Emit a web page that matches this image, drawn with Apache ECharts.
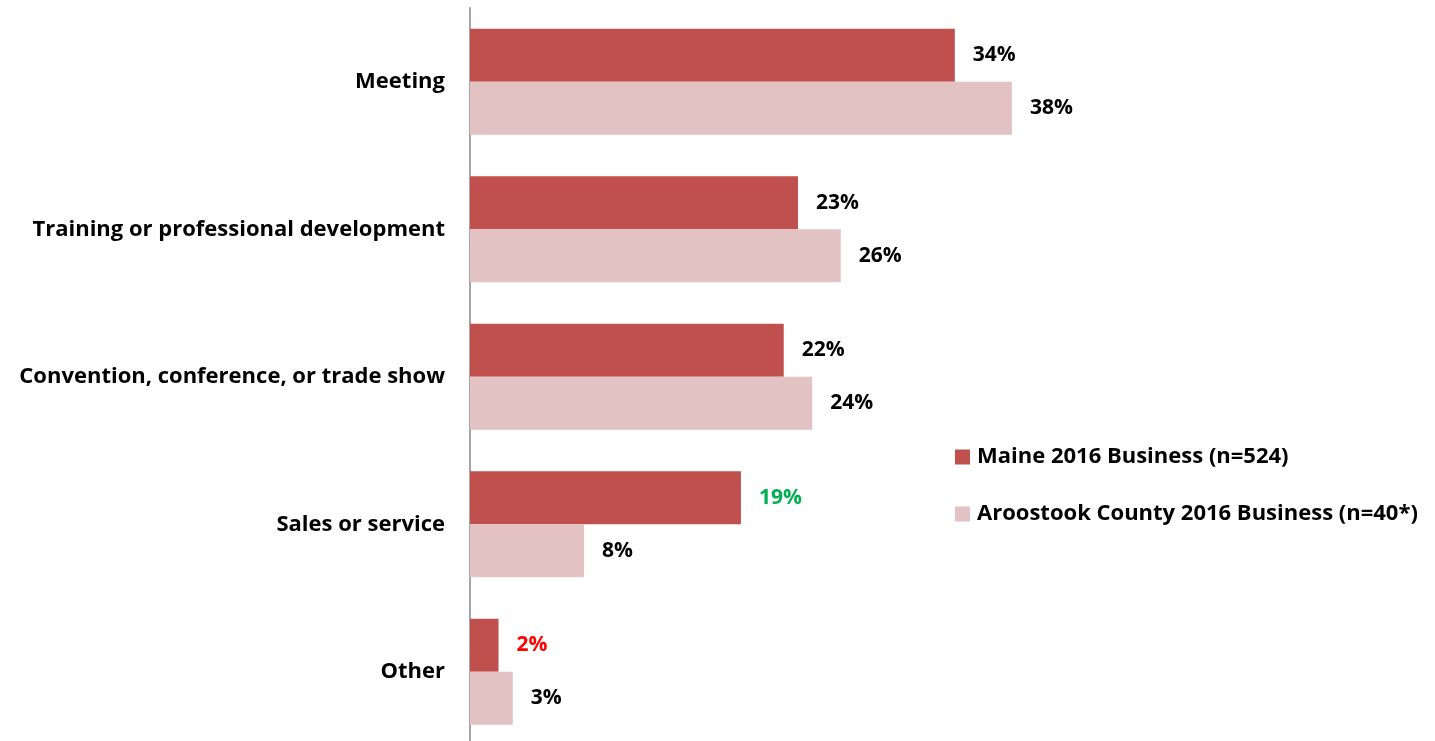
<!DOCTYPE html>
<html>
<head>
<meta charset="utf-8">
<script src="https://cdn.jsdelivr.net/npm/echarts@6/dist/echarts.min.js"></script>
<style>
  html, body { margin: 0; padding: 0; background: #fff; overflow: hidden; }
  /* the plot area runs slightly past the bottom edge of the window */
  #chart { width: 1435px; height: 750px; }
</style>
</head>
<body>
<div id="chart"></div>
<script>
// Reasons for business travel, share of respondents (%)
const categories = [
  'Meeting',
  'Training or professional development',
  'Convention, conference, or trade show',
  'Sales or service',
  'Other'
];
const seriesNames = ['Maine 2016 Business (n=524)', 'Aroostook County 2016 Business (n=40*)'];
const maineValues = [34, 23, 22, 19, 2];
const aroostookValues = [38, 26, 24, 8, 3];

// Highlighted value labels (significance markers) for the Maine series
const maineLabelColors = { 3: '#00B050', 4: '#FF0000' };

const FONT = '"Open Sans", "Noto Sans", sans-serif';

function withLabelColors(values, colors) {
  return values.map((v, i) => colors[i]
    ? { value: v, label: { color: colors[i] } }
    : v);
}

const labelStyle = {
  show: true,
  position: 'right',
  distance: 18,
  formatter: '{c}%',
  fontFamily: FONT,
  fontWeight: 'bold',
  fontSize: 21,
  color: '#000'
};

const chart = echarts.init(document.getElementById('chart'), null, { renderer: 'canvas' });
chart.setOption({
  animation: false,
  backgroundColor: '#fff',
  grid: { left: 470, top: 8, width: 713, height: 737.5, containLabel: false },
  xAxis: {
    type: 'value', min: 0, max: 50,
    show: false, splitLine: { show: false }
  },
  yAxis: {
    type: 'category',
    data: categories,
    inverse: true,
    axisLine: { show: true, lineStyle: { color: '#A6A6A6', width: 2 } },
    axisTick: { show: false },
    axisLabel: {
      margin: 25,
      fontFamily: FONT,
      fontWeight: 'bold',
      fontSize: 22,
      color: '#000'
    }
  },
  legend: {
    orient: 'vertical',
    left: 950,
    top: 441,
    icon: 'rect',
    itemWidth: 15,
    itemHeight: 15,
    itemGap: 35,
    textStyle: { fontFamily: FONT, fontWeight: 'bold', fontSize: 22, color: '#000', padding: [0, 0, 0, 2] },
    data: seriesNames
  },
  series: [
    {
      name: seriesNames[0],
      type: 'bar',
      data: withLabelColors(maineValues, maineLabelColors),
      itemStyle: { color: '#C0504D' },
      barGap: '0%',
      barCategoryGap: '28%',
      label: labelStyle
    },
    {
      name: seriesNames[1],
      type: 'bar',
      data: aroostookValues,
      itemStyle: { color: '#E2C2C3' },
      barGap: '0%',
      barCategoryGap: '28%',
      label: labelStyle
    }
  ]
});
</script>
</body>
</html>
